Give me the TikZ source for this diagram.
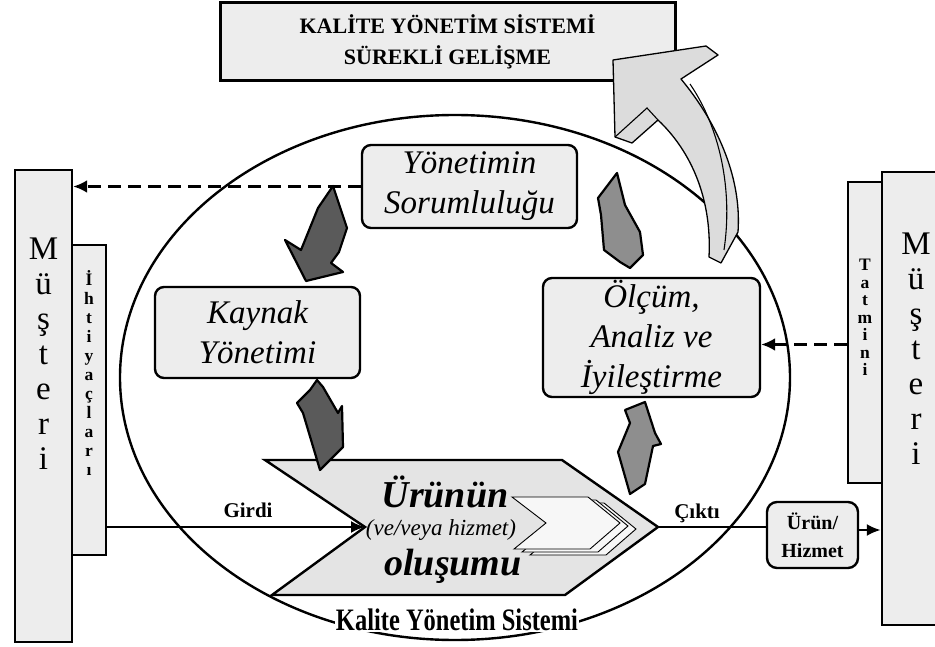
\documentclass[tikz,border=0pt]{standalone}
\usepackage{fontspec}
\setmainfont{Liberation Serif}
\usetikzlibrary{arrows.meta,calc}
\definecolor{boxgray}{HTML}{EDEDED}
\definecolor{chevgray}{HTML}{E4E4E4}
\definecolor{darkarrow}{HTML}{5A5A5A}
\definecolor{midarrow}{HTML}{8E8E8E}
\definecolor{bigarrowgray}{HTML}{DCDCDC}

\begin{document}
\begin{tikzpicture}[x=1pt,y=-1pt,
  outline/.style={draw=black, line width=2.4pt},
  sidebox/.style={outline, fill=boxgray, inner sep=0pt},
  roundbox/.style={outline, fill=boxgray, rounded corners=9pt, inner sep=0pt, align=center,
    font=\fontsize{33}{40}\selectfont\itshape},
  column/.style={align=center, inner sep=0pt, anchor=north},
  dasharrow/.style={line width=2.6pt, dash pattern=on 13pt off 7pt, -{Latex[length=14pt,width=13pt]}},
  flowline/.style={line width=2.4pt},
  flowarrow/.style={flowline, -{Latex[length=14pt,width=12pt]}},
  cyclearrow/.style={draw=black, line width=2.2pt, line join=round},
  smalllabel/.style={font=\fontsize{21}{24}\selectfont\bfseries, inner sep=0pt}
]
\useasboundingbox (0,0) rectangle (935,647);
\fill[white] (0,0) rectangle (935,647);

% quality management system ellipse
\draw[outline, fill=white] (455,377.5) ellipse [x radius=335pt, y radius=262.5pt];

% title box
\node[sidebox, line width=3pt, minimum width=455pt, minimum height=78pt, align=center,
      font=\fontsize{22}{31}\selectfont\bfseries] (title) at (447.5,42)
      {KALİTE YÖNETİM SİSTEMİ\\SÜREKLİ GELİŞME};

% continual improvement arrow
\draw[line width=1.3pt, fill=bigarrowgray, line join=round]
  (613,60) -- (706,46) -- (718,55) -- (681,79)
  .. controls (715,120) and (742,175) .. (738,232) -- (721,263) -- (709,257)
  .. controls (712,200) and (692,152) .. (658,120) -- (632,143) -- (615,137) -- cycle;
\draw[line width=1.1pt] (690,84) .. controls (720,128) and (733,190) .. (724,250);
\draw[line width=1.1pt] (615,137) -- (647,108) -- (658,120);

% product realisation chevron
\coordinate (notch) at (365,527);
\coordinate (tip) at (658,527);
\draw[outline, fill=chevgray, line join=miter]
  (265,460) -- (562,460) -- (tip) -- (565,595) -- (272,595) -- (notch) -- cycle;
\foreach \k in {2,1,0} {
  \draw[line width=0.9pt, fill=gray!6, shift={(8*\k,3*\k)}]
    (512,497) -- (588,497) -- (620,523) -- (590,549) -- (514,549) -- (546,523) -- cycle;
}
\node[font=\fontsize{38}{38}\selectfont\bfseries\itshape, inner sep=0pt] (urunun) at (445,492) {Ürünün};
\node[font=\fontsize{23}{23}\selectfont\itshape, inner sep=0pt] (veveya) at (441,530) {(ve/veya hizmet)};
\node[font=\fontsize{38}{38}\selectfont\bfseries\itshape, inner sep=0pt] (olusumu) at (453,566) {oluşumu};

\node[fill=white, inner sep=1pt, font=\fontsize{24}{24}\selectfont\bfseries] (kys) at (457,620)
  {\scalebox{1.02}[1.3]{Kalite Yönetim Sistemi}};

% process boxes
\node[roundbox, minimum width=215pt, minimum height=83pt] (yon) at (469.5,186.5) {Yönetimin\\Sorumluluğu};
\node[roundbox, minimum width=205pt, minimum height=91pt] (kay) at (257.5,332.5) {Kaynak\\Yönetimi};
\node[roundbox, minimum width=217pt, minimum height=119pt] (olc) at (651.5,337.5) {Ölçüm,\\Analiz ve\\İyileştirme};
\node[roundbox, minimum width=91pt, minimum height=66pt, rounded corners=10pt,
      font=\fontsize{20}{28}\selectfont\bfseries] (urun) at (812.5,535) {Ürün/\\Hizmet};

% customer columns
\node[sidebox, minimum width=57pt, minimum height=472pt] (lmus) at (43.5,406) {};
\node[sidebox, minimum width=34pt, minimum height=310pt] (iht) at (89,400) {};
\node[sidebox, minimum width=34pt, minimum height=301pt] (tat) at (865,332.5) {};
\node[sidebox, minimum width=60pt, minimum height=453pt] (rmus) at (912,398.5) {};

\node[column, font=\fontsize{33}{35}\selectfont] (lmustext) at (43.5,238) {M\\ü\\ş\\t\\e\\r\\i};
\node[column, font=\fontsize{17.5}{19}\selectfont\bfseries] (ihttext) at (89,270) {İ\\h\\t\\i\\y\\a\\ç\\l\\a\\r\\ı};
\node[column, font=\fontsize{17.5}{17.5}\selectfont\bfseries] (tattext) at (865,259) {T\\a\\t\\m\\i\\n\\i};
\node[column, font=\fontsize{33}{35}\selectfont] (rmustext) at (916,233) {M\\ü\\ş\\t\\e\\r\\i};

% cycle arrows
\filldraw[cyclearrow, fill=darkarrow]
  (333,186) -- (347,228) -- (339,252) -- (331,263) -- (343,272) -- (306,281)
  -- (285,240) -- (301,250) -- (318,208) -- cycle;
\filldraw[cyclearrow, fill=darkarrow]
  (317,380) -- (323,387) -- (338,413) -- (342,406) -- (343,447) -- (327,463)
  -- (320,470) -- (303,413) -- (297,403) -- (310,390) -- cycle;
\filldraw[cyclearrow, fill=midarrow]
  (630,494) -- (618,452) -- (630,423) -- (625,410) -- (645,402) -- (655,433)
  -- (661,444) -- (653,446) -- (645,484) -- cycle;
\filldraw[cyclearrow, fill=midarrow]
  (617,173) -- (625,205) -- (640,232) -- (643,255) -- (630,268) -- (620,262)
  -- (604,250) -- (601,215) -- (598,198) -- cycle;

% connectors
\draw[dasharrow] (yon.west) -- (yon.west -| lmus.east);
\coordinate (olcin) at ([yshift=-7pt]olc.east);
\draw[dasharrow] (olcin -| tat.west) -- (olcin);
\draw[flowarrow] (notch -| iht.east) -- (notch);
\node[smalllabel] (girdi) at (248,510) {Girdi};
\draw[flowline] (tip) -- (tip -| urun.west);
\node[smalllabel] (cikti) at (697,513) {Çıktı};
\coordinate (urunout) at ([yshift=5pt]urun.east);
\draw[flowarrow] (urunout) -- (urunout -| rmus.west);
\end{tikzpicture}
\end{document}
